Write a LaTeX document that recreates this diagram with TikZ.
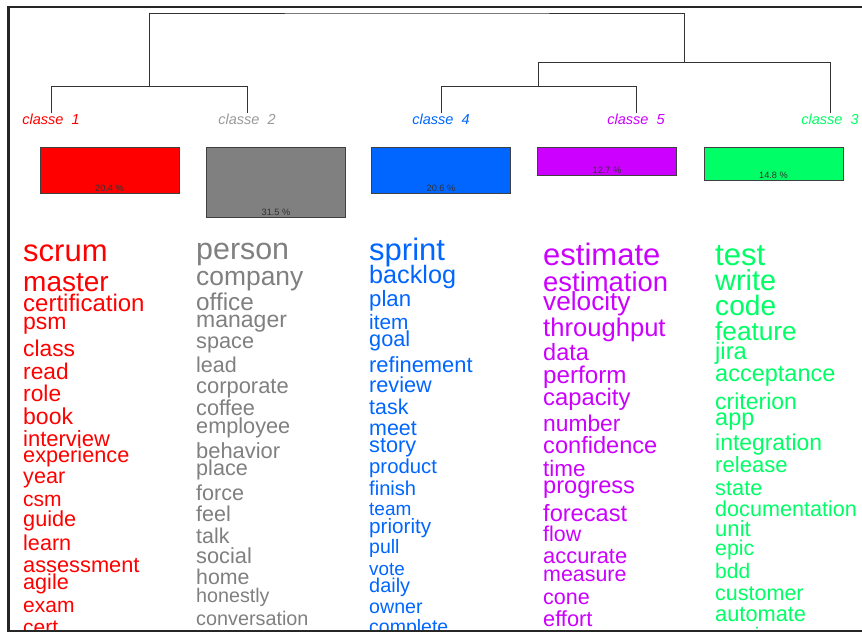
\documentclass[tikz,border=0pt]{standalone}
\usepackage{fontspec}
\setmainfont{Liberation Sans}
\usepackage{xcolor}
\usepackage{tikz}
\usetikzlibrary{positioning}

\definecolor{cl1}{HTML}{FF0000}
\definecolor{cl2}{HTML}{808080}
\definecolor{cl3}{HTML}{00FF66}
\definecolor{cl4}{HTML}{0066FF}
\definecolor{cl5}{HTML}{CC00FF}

\begin{document}
\begin{tikzpicture}[
  x=1pt, y=-1pt,
  frame/.style={draw=black!85,line width=2.2pt},
  tree/.style={draw=black!80,line width=0.9pt},
  leaf/.style={font=\fontsize{14.5}{14.5}\selectfont\itshape,inner sep=0pt,anchor=base},
  bar/.style={rectangle,draw=black!75,line width=0.9pt,minimum width=139pt,anchor=north,inner sep=0pt},
  pct/.style={font=\fontsize{9.2}{9.2}\selectfont,text=black!80,inner sep=0pt,anchor=south},
  word/.style={inner sep=0pt,anchor=base west},
  fs/.style={font=\fontsize{#1}{#1}\selectfont},
  w1/.style={word,text=cl1},
  w2/.style={word,text=cl2},
  w3/.style={word,text=cl3},
  w4/.style={word,text=cl4},
  w5/.style={word,text=cl5}
]
\useasboundingbox (0,0) rectangle (862,633);
\clip (0,0) rectangle (862,633);
\fill[white] (0,0) rectangle (862,633);
\draw[frame] (8.5,7) rectangle (880,631);

% class labels and dendrogram
\node[leaf,text=cl1] (c1) at (51,124) {classe~~1};
\node[leaf,text=cl2!80] (c2) at (247,124) {classe~~2};
\node[leaf,text=cl4] (c4) at (441,124) {classe~~4};
\node[leaf,text=cl5] (c5) at (636,124) {classe~~5};
\node[leaf,text=cl3] (c3) at (830,124) {classe~~3};

\coordinate (m12) at (149,86.7);
\coordinate (m45) at (538.5,86.7);
\coordinate (m453) at (684.5,62.3);
\coordinate (root) at (417,13);
\draw[tree] (c1.north) |- (m12) -| (c2.north);
\draw[tree] (c4.north) |- (m45) -| (c5.north);
\draw[tree] (m45) |- (m453) -| (c3.north);
\draw[tree] (m12) |- (root) -| (m453);

% class sizes
\node[bar,fill=cl1,minimum height=46pt] (b1) at (109.5,147) {};
\node[bar,fill=cl2,minimum height=70pt] (b2) at (276,147) {};
\node[bar,fill=cl4,minimum height=46pt] (b4) at (441,147) {};
\node[bar,fill=cl5,minimum height=28pt] (b5) at (607,147) {};
\node[bar,fill=cl3,minimum height=33pt] (b3) at (773.5,147) {};
\node[pct] (p1) at ([yshift=2.4pt]b1.south) {20.4 \%};
\node[pct] (p2) at ([yshift=2.4pt]b2.south) {31.5 \%};
\node[pct] (p4) at ([yshift=2.4pt]b4.south) {20.6 \%};
\node[pct] (p5) at ([yshift=2.4pt]b5.south) {12.7 \%};
\node[pct] (p3) at ([yshift=2.4pt]b3.south) {14.8 \%};

\begin{scope}
\clip (9.6,8) rectangle (862,629.9);
% classe 1
\node[w1,fs=31] (scrum) at (23,261.7) {scrum};
\node[w1,fs=28] (master) at (23,291) {master};
\node[w1,fs=24] (certification) at (23,311.7) {certification};
\node[w1,fs=23] (psm) at (23,329.5) {psm};
\node[w1,fs=22.8] (class) at (23,356.7) {class};
\node[w1,fs=22.7] (read) at (23,379) {read};
\node[w1,fs=22.8] (role) at (23,401.7) {role};
\node[w1,fs=23] (book) at (23,424) {book};
\node[w1,fs=22] (interview) at (23,446) {interview};
\node[w1,fs=21.7] (experience) at (23,462.7) {experience};
\node[w1,fs=21.6] (year) at (23,483) {year};
\node[w1,fs=21] (csm) at (23,506.7) {csm};
\node[w1,fs=21.7] (guide) at (23,526.7) {guide};
\node[w1,fs=21.6] (learn) at (23,550) {learn};
\node[w1,fs=21.8] (assessment) at (23,572.3) {assessment};
\node[w1,fs=21.6] (agile) at (23,589) {agile};
\node[w1,fs=21] (exam) at (23,612.7) {exam};
\node[w1,fs=21] (cert) at (23,634) {cert};
% classe 2
\node[w2,fs=30.4] (person) at (196,259) {person};
\node[w2,fs=26.4] (company) at (196,285) {company};
\node[w2,fs=24.3] (office) at (196,310) {office};
\node[w2,fs=23] (manager) at (196,327) {manager};
\node[w2,fs=21.7] (space) at (196,348) {space};
\node[w2,fs=21.5] (lead) at (196,372.7) {lead};
\node[w2,fs=21.9] (corporate) at (196,393) {corporate};
\node[w2,fs=21.7] (coffee) at (196,415.7) {coffee};
\node[w2,fs=21.7] (employee) at (196,433) {employee};
\node[w2,fs=21.9] (behavior) at (196,458) {behavior};
\node[w2,fs=21.6] (place) at (196,475) {place};
\node[w2,fs=21.6] (force) at (196,500) {force};
\node[w2,fs=21.5] (feel) at (196,521) {feel};
\node[w2,fs=21.4] (talk) at (196,543) {talk};
\node[w2,fs=21.8] (social) at (196,563.3) {social};
\node[w2,fs=21.3] (home) at (196,584) {home};
\node[w2,fs=19.7] (honestly) at (196,602.5) {honestly};
\node[w2,fs=19.8] (conversation) at (196,625) {conversation};
% classe 4
\node[w4,fs=31] (sprint) at (369,260.7) {sprint};
\node[w4,fs=25.2] (backlog) at (369,283) {backlog};
\node[w4,fs=22.2] (plan) at (369,306.7) {plan};
\node[w4,fs=20.8] (item) at (369,329) {item};
\node[w4,fs=21.7] (goal) at (369,346.7) {goal};
\node[w4,fs=21.9] (refinement) at (369,372.7) {refinement};
\node[w4,fs=21.7] (review) at (369,392.3) {review};
\node[w4,fs=21.4] (task) at (369,414.3) {task};
\node[w4,fs=21.4] (meet) at (369,435) {meet};
\node[w4,fs=21.7] (story) at (369,452.7) {story};
\node[w4,fs=20.3] (product) at (369,473.3) {product};
\node[w4,fs=20.1] (finish) at (369,495) {finish};
\node[w4,fs=19] (team) at (369,515) {team};
\node[w4,fs=20.7] (priority) at (369,533.3) {priority};
\node[w4,fs=19.5] (pull) at (369,553.3) {pull};
\node[w4,fs=18.8] (vote) at (369,575) {vote};
\node[w4,fs=19.9] (daily) at (369,592.7) {daily};
\node[w4,fs=19.6] (owner) at (369,613.8) {owner};
\node[w4,fs=19.5] (complete) at (369,633) {complete};
% classe 5
\node[w5,fs=31] (estimate) at (543,265.7) {estimate};
\node[w5,fs=27.4] (estimation) at (543,291) {estimation};
\node[w5,fs=26.2] (velocity) at (543,310) {velocity};
\node[w5,fs=25.6] (throughput) at (543,336) {throughput};
\node[w5,fs=23.5] (data) at (543,360) {data};
\node[w5,fs=24.2] (perform) at (543,383) {perform};
\node[w5,fs=23.8] (capacity) at (543,405) {capacity};
\node[w5,fs=22.8] (number) at (543,431.7) {number};
\node[w5,fs=23.6] (confidence) at (543,453.3) {confidence};
\node[w5,fs=22.4] (time) at (543,476.7) {time};
\node[w5,fs=23.6] (progress) at (543,493.3) {progress};
\node[w5,fs=23.6] (forecast) at (543,521.7) {forecast};
\node[w5,fs=21.4] (flow) at (543,541.7) {flow};
\node[w5,fs=21.9] (accurate) at (543,563.3) {accurate};
\node[w5,fs=21.4] (measure) at (543,581.7) {measure};
\node[w5,fs=21.5] (cone) at (543,604.5) {cone};
\node[w5,fs=21.8] (effort) at (543,626.7) {effort};
% classe 3
\node[w3,fs=31] (test) at (715,265) {test};
\node[w3,fs=28.9] (write) at (715,290) {write};
\node[w3,fs=28.1] (code) at (715,315) {code};
\node[w3,fs=26.2] (feature) at (715,340.7) {feature};
\node[w3,fs=23.8] (jira) at (715,359.3) {jira};
\node[w3,fs=23.5] (acceptance) at (715,381.7) {acceptance};
\node[w3,fs=23] (criterion) at (715,409) {criterion};
\node[w3,fs=23.5] (app) at (715,425) {app};
\node[w3,fs=22.9] (integration) at (715,450.5) {integration};
\node[w3,fs=22.1] (release) at (715,472) {release};
\node[w3,fs=21.8] (state) at (715,495) {state};
\node[w3,fs=21.6] (documentation) at (715,516.5) {documentation};
\node[w3,fs=22.1] (unit) at (715,536.5) {unit};
\node[w3,fs=21.3] (epic) at (715,555) {epic};
\node[w3,fs=21] (bdd) at (715,578) {bdd};
\node[w3,fs=21.5] (customer) at (715,600) {customer};
\node[w3,fs=21.8] (automate) at (715,621.5) {automate};
\node[w3,fs=21] (version) at (715,642) {version};
\end{scope}
\end{tikzpicture}
\end{document}
